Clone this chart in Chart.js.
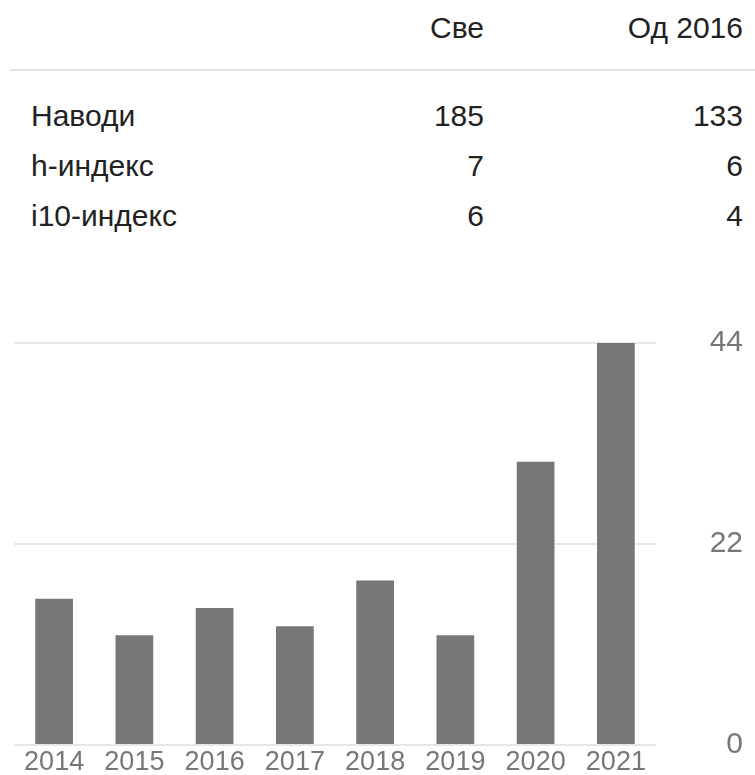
<!DOCTYPE html>
<html>
<head>
<meta charset="utf-8">
<script src="https://cdn.jsdelivr.net/npm/chart.js@4"></script>
<style>
  html, body { margin: 0; padding: 0; background: #fff; }
  body { width: 755px; height: 775px; position: relative; overflow: hidden;
         font-family: "Liberation Sans", Arial, sans-serif; color: #222; }
  .row { position: absolute; left: 0; width: 755px; height: 40px; line-height: 40px; font-size: 30px; }
  .row .lbl { position: absolute; left: 31px; }
  .row .c1  { position: absolute; right: 271px; text-align: right; }
  .row .c2  { position: absolute; right: 12px; text-align: right; }
  #rule { position: absolute; left: 10px; right: 0; top: 69px; height: 2px; background: #e6e6e6; }
  #wrap { position: absolute; left: 0; top: 300px; width: 755px; height: 475px; }
</style>
</head>
<body>
<div id="stats"></div>
<div id="rule"></div>
<div id="wrap"><canvas id="chart"></canvas></div>

<script>
// табела са индексима
const colHeads  = ['Све', 'Од 2016'];
const rowLabels = ['Наводи', 'h-индекс', 'i10-индекс'];
const allVals   = [185, 7, 6];
const sinceVals = [133, 6, 4];

// наводи по години
const years     = ['2014', '2015', '2016', '2017', '2018', '2019', '2020', '2021'];
const citations = [16, 12, 15, 13, 18, 12, 31, 44];
const yTicks    = [0, 22, 44];

const stats = document.getElementById('stats');
let html = `<div class="row" style="top:8px"><span class="c1">${colHeads[0]}</span><span class="c2">${colHeads[1]}</span></div>`;
rowLabels.forEach((l, i) => {
  html += `<div class="row" style="top:${96 + i * 50}px">
    <span class="lbl">${l}</span><span class="c1">${allVals[i]}</span><span class="c2">${sinceVals[i]}</span></div>`;
});
stats.innerHTML = html;

const FONT = '"Liberation Sans", Arial, sans-serif';

new Chart(document.getElementById('chart'), {
  type: 'bar',
  data: {
    labels: years,
    datasets: [{
      data: citations,
      backgroundColor: '#777777',
      categoryPercentage: 1,
      barPercentage: 0.47
    }]
  },
  options: {
    responsive: true,
    maintainAspectRatio: false,
    animation: false,
    layout: { padding: { left: 14, top: 43, right: 12, bottom: 0 } },
    plugins: { legend: { display: false }, tooltip: { enabled: false } },
    scales: {
      x: {
        afterFit: s => { s.height = 30; },
        grid: { display: false, drawTicks: false },
        border: { display: false },
        ticks: { font: { family: FONT, size: 27, lineHeight: 1 }, color: '#777', padding: 4, maxRotation: 0 }
      },
      y: {
        position: 'right',
        min: 0,
        max: 44,
        afterBuildTicks: s => { s.ticks = yTicks.map(v => ({ value: v })); },
        afterFit: s => { s.width = 87; s.paddingTop = 0; s.paddingBottom = 0; },
        grid: { color: '#e6e6e6', lineWidth: 2, drawTicks: false },
        border: { display: false },
        ticks: { font: { family: FONT, size: 30 }, color: '#777', padding: 0, crossAlign: 'far' }
      }
    }
  }
});
</script>
</body>
</html>
